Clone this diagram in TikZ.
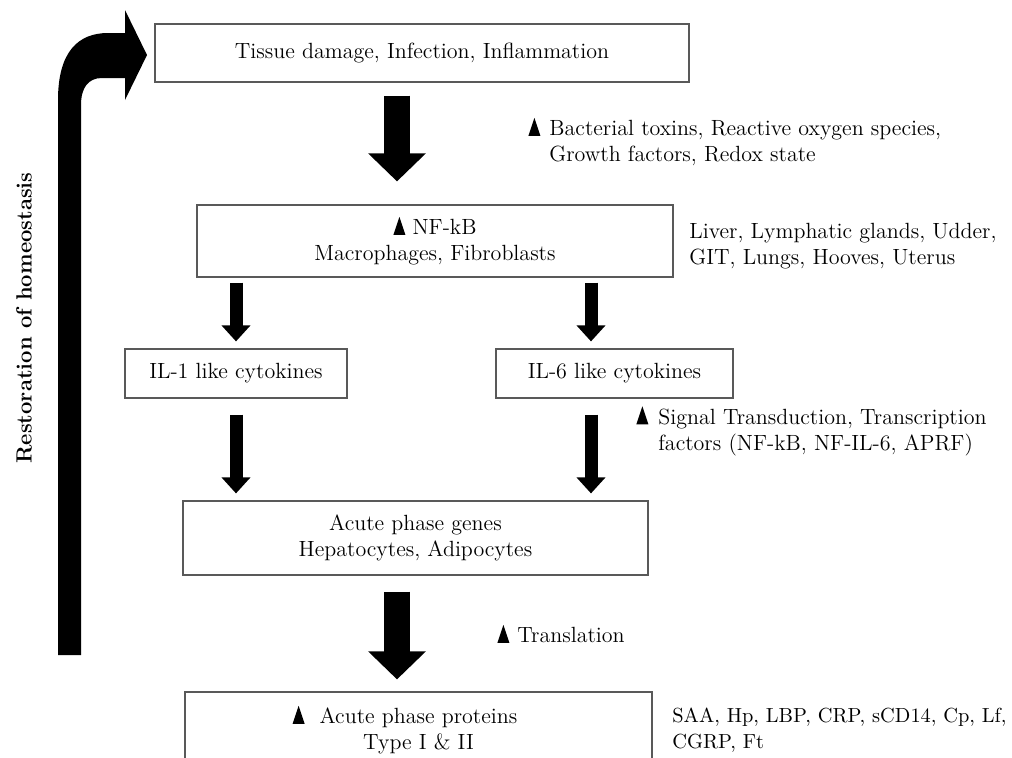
\documentclass[tikz,border=0pt]{standalone}
\usetikzlibrary{arrows.meta}

\newcommand{\upmark}{\tikz[baseline=0pt]\fill (0,0) -- (6pt,0) -- (3pt,9pt) -- cycle;}

\begin{document}
\begin{tikzpicture}[x=0.5pt, y=-0.5pt,
        font=\fontsize{11}{13}\selectfont,
        box/.style={draw=black!65, line width=0.6pt, fill=white, align=center, inner sep=0pt},
        note/.style={anchor=west, align=left, inner sep=0pt},
        bigarrow/.style={-{Triangle[width=28pt,length=14pt]}, line width=13pt},
        smallarrow/.style={-{Triangle[width=14pt,length=8pt]}, line width=6.5pt}]
        \useasboundingbox (0,0) rectangle (1012,757);
        \clip (0,0) rectangle (1012,757);

        % 1. Columns for the arrows
        \coordinate (lcol) at (236,0);
        \coordinate (mcol) at (397,0);
        \coordinate (rcol) at (591,0);

        % 2. Boxes
        \node[box, minimum width=267pt, minimum height=29pt] (tissue) at (422,53) {Tissue damage, Infection, Inflammation};
        \node[box, minimum width=238pt, minimum height=36pt] (nfkb) at (435,241) {\upmark\ NF-kB\\Macrophages, Fibroblasts};
        \node[box, minimum width=111pt, minimum height=24.5pt] (il1) at (236,373.5) {IL-1 like cytokines};
        \node[box, minimum width=118.5pt, minimum height=24.5pt] (il6) at (614.5,373.5) {IL-6 like cytokines};
        \node[box, minimum width=232.5pt, minimum height=37pt] (genes) at (415.5,538) {Acute phase genes\\Hepatocytes, Adipocytes};
        \node[box, minimum width=233.5pt, minimum height=38pt] (proteins) at (418.5,730) {\llap{\upmark\hspace{7.5pt}}Acute phase proteins\\Type I \& II};

        % 3. Side notes
        \node[note] (bact) at (549,142) {\llap{\upmark\hspace{4.5pt}}Bacterial toxins, Reactive oxygen species,\\Growth factors, Redox state};
        \node[note] (organs) at (689,246) {Liver, Lymphatic glands, Udder,\\GIT, Lungs, Hooves, Uterus};
        \node[note] (signal) at (658,431) {\llap{\upmark\hspace{5pt}}Signal Transduction, Transcription\\factors (NF-kB, NF-IL-6, APRF)};
        \node[note] (transl) at (517,634) {\llap{\upmark\hspace{4pt}}Translation};
        \node[note, font=\fontsize{10.2}{13}\selectfont] (plist) at (672,730) {SAA, Hp, LBP, CRP, sCD14, Cp, Lf,\\CGRP, Ft};
        \node[font=\fontsize{11}{13}\selectfont\bfseries, rotate=90] (restore) at (24,318) {Restoration of homeostasis};

        % 4. Block arrows
        \draw[bigarrow, shorten <=6.5pt, shorten >=11.5pt] (tissue.south -| mcol) -- (nfkb.north -| mcol);
        \foreach \col/\mid in {lcol/il1, rcol/il6} {
            \draw[smallarrow, shorten <=2.5pt, shorten >=3.5pt] (nfkb.south -| \col) -- (\mid.north -| \col);
            \draw[smallarrow, shorten <=8pt, shorten >=3.5pt] (\mid.south -| \col) -- (genes.north -| \col);
        }
        \draw[bigarrow, shorten <=8pt, shorten >=6pt] (genes.south -| mcol) -- (proteins.north -| mcol);

        % 5. Bent return arrow
        \fill (58,655) -- (58,100) .. controls (58,52) and (78,33) .. (108,33) -- (125,33) -- (125,10)
            -- (147,55) -- (125,100) -- (125,78) -- (102,78) .. controls (88,78) and (81,88) .. (81,105)
            -- (81,655) -- cycle;
\end{tikzpicture}
\end{document}
